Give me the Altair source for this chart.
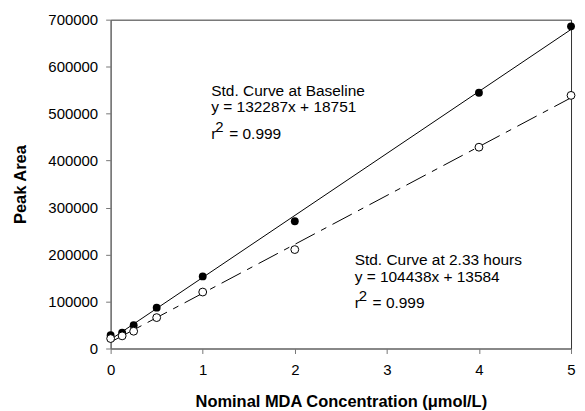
import altair as alt
import pandas as pd

# ---- data ----
conc = [0, 0.125, 0.25, 0.5, 1, 2, 4, 5]
area_baseline = [28200, 33900, 49500, 87000, 153400, 270900, 544500, 685800]
area_233h = [21200, 26900, 36800, 65800, 120200, 210600, 428500, 538800]

x_ticks = [0, 1, 2, 3, 4, 5]
y_ticks = [0, 100000, 200000, 300000, 400000, 500000, 600000, 700000]

ann_x = [1.093, 1.093, 1.093, 2.65, 2.65, 2.65]
ann_y = [536700, 502700, 445500, 178800, 141500, 86300]
ann_text = ["Std. Curve at Baseline", "y = 132287x + 18751", "r",
            "Std. Curve at 2.33 hours", "y = 104438x + 13584", "r"]
sup_x = [1.093, 2.65]
sup_y = [445500, 86300]
eq_x = [1.093, 2.65]
eq_y = [445500, 86300]

FONT = "Liberation Sans"
XTITLE = "Nominal MDA Concentration (\u03bcmol/L)"
YTITLE = "Peak Area"

df_base = pd.DataFrame({"conc": conc, "area": area_baseline})
df_233 = pd.DataFrame({"conc": conc, "area": area_233h})
df_ann = pd.DataFrame({"conc": ann_x, "area": ann_y, "text": ann_text})
df_sup = pd.DataFrame({"conc": sup_x, "area": sup_y, "text": ["2", "2"]})
df_eq = pd.DataFrame({"conc": eq_x, "area": eq_y, "text": ["= 0.999", "= 0.999"]})

xenc = alt.X("conc:Q", scale=alt.Scale(domain=[0, 5], nice=False),
             axis=alt.Axis(values=x_ticks, format="d", title=XTITLE,
                           labelPadding=9, titlePadding=16))
yenc = alt.Y("area:Q", scale=alt.Scale(domain=[0, 700000], nice=False),
             axis=alt.Axis(values=y_ticks, format="d", title=YTITLE,
                           labelPadding=8, titlePadding=19))

line_base = alt.Chart(df_base).transform_regression(
    "conc", "area", extent=[0, 5]
).mark_line(color="black", strokeWidth=1).encode(x=xenc, y=yenc)

line_233 = alt.Chart(df_233).transform_regression(
    "conc", "area", extent=[0, 5]
).mark_line(color="black", strokeWidth=1, strokeDash=[22, 7, 6, 7]).encode(x=xenc, y=yenc)

pts_base = alt.Chart(df_base).mark_circle(
    color="black", size=62, opacity=1
).encode(x=xenc, y=yenc)

pts_233 = alt.Chart(df_233).mark_circle(
    fill="white", stroke="black", strokeWidth=1, size=62, opacity=1
).encode(x=xenc, y=yenc)

txt = alt.Chart(df_ann).mark_text(
    align="left", baseline="alphabetic", fontSize=15.5, font=FONT, color="black"
).encode(x=xenc, y=yenc, text="text:N")

sup = alt.Chart(df_sup).mark_text(
    align="left", baseline="alphabetic", fontSize=15, font=FONT, color="black",
    dx=4, dy=-7
).encode(x=xenc, y=yenc, text="text:N")

eq = alt.Chart(df_eq).mark_text(
    align="left", baseline="alphabetic", fontSize=15.5, font=FONT, color="black",
    dx=18
).encode(x=xenc, y=yenc, text="text:N")

chart = alt.layer(line_base, line_233, pts_base, pts_233, txt, sup, eq).properties(
    width=462, height=330,
    padding={"left": 4, "top": 4, "right": 0, "bottom": 0},
    background="white",
).configure_view(
    stroke="#333", strokeWidth=1
).configure_axis(
    grid=False, labelFont=FONT, labelFontSize=15, labelColor="black",
    titleFont=FONT, titleFontSize=16.5, titleFontWeight="bold", titleColor="black",
    tickColor="#777", domainColor="#777", tickSize=5, labelFlush=False,
    labelOverlap=False,
)

chart.save("out.html", embed_options={"renderer": "svg", "actions": False})
